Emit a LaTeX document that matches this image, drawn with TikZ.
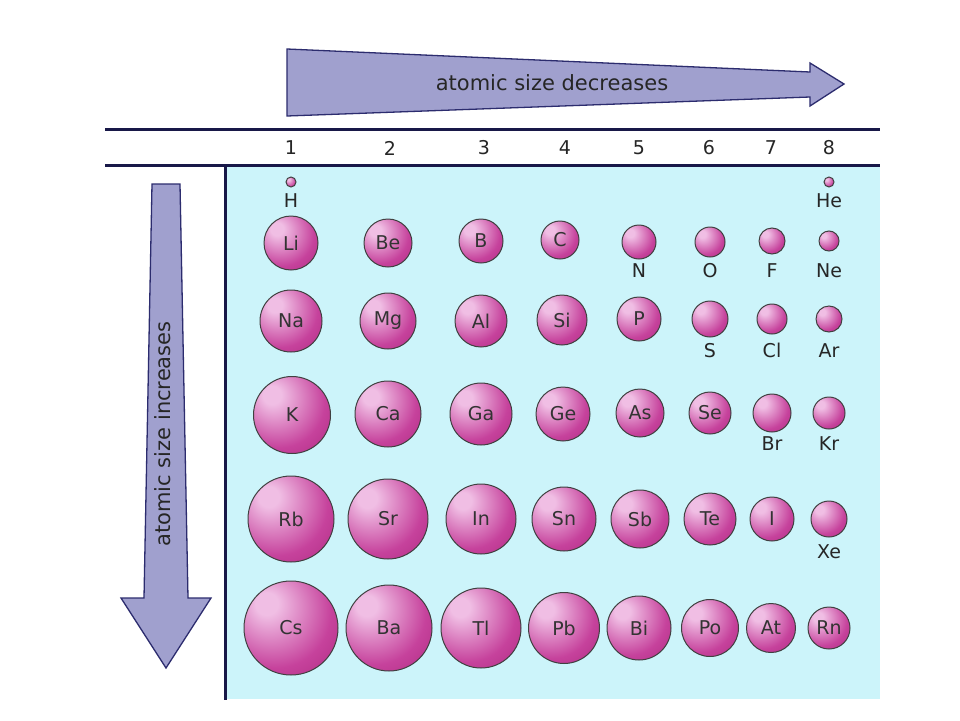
\documentclass[tikz,border=0pt]{standalone}
\usepackage{fontspec}
\setmainfont{DejaVu Sans}
\usepackage{xcolor}
\usepackage{tikz}
\usetikzlibrary{shapes,arrows,positioning,calc}

\definecolor{atomhi}{RGB}{240,190,228}
\definecolor{atommid}{RGB}{198,66,156}
\definecolor{atomdark}{RGB}{156,26,110}
\definecolor{panelblue}{RGB}{204,244,250}
\definecolor{navyline}{RGB}{24,24,72}
\definecolor{arrowfill}{RGB}{160,160,206}
\definecolor{arrowline}{RGB}{44,44,110}

\pgfdeclareradialshading{atomshade}{\pgfqpoint{-14bp}{14bp}}{%
  color(0bp)=(atomhi); color(6bp)=(atomhi); color(30bp)=(atommid);
  color(58bp)=(atomdark); color(80bp)=(atomdark)}

\begin{document}
\begin{tikzpicture}[x=1pt, y=-1pt,
    atom/.style={circle, draw=black!75, line width=1pt, shading=atomshade, inner sep=0pt, text=black!80, font=\fontsize{19}{21}\selectfont},
    lbl/.style={inner sep=0pt, text height=14pt, text depth=0pt, text=black!85, font=\fontsize{19}{21}\selectfont},
    num/.style={text=black!85, font=\fontsize{19}{21}\selectfont},
    bigarrow/.style={fill=arrowfill, draw=arrowline, line width=1.3pt, line join=miter},
    rule/.style={draw=navyline, line width=3pt}
]

\useasboundingbox[fill=white] (0,0) rectangle (960,720);

% panel and rules
\fill[panelblue] (225,165) rectangle (880,699);
\draw[rule] (105,129) -- (880,129);
\draw[rule] (105,165) -- (880,165);
\draw[rule] (225,165) -- (225,700);

% arrows
\draw[bigarrow] (287,49) -- (810,72) -- (810,63) -- (844,84) -- (810,106) -- (810,97) -- (287,116) -- cycle;
\node (across) [font=\fontsize{21}{24}\selectfont, text=black!85] at (552,83) {atomic size decreases};
\draw[bigarrow] (152,184) -- (180,184) -- (188,598) -- (211,598) -- (166,668) -- (121,598) -- (144,598) -- cycle;
\node (down) [font=\fontsize{21}{24}\selectfont, text=black!85, rotate=90] at (163,434) {atomic size increases};

% group numbers
\node (n1) [num] at (291,148) {1};
\node (n2) [num] at (390,148) {2};
\node (n3) [num] at (484,148) {3};
\node (n4) [num] at (565,148) {4};
\node (n5) [num] at (639,148) {5};
\node (n6) [num] at (709,148) {6};
\node (n7) [num] at (771,148) {7};
\node (n8) [num] at (829,148) {8};

% period 1
\node (H) [atom, minimum size=10] at (291,182) {};
\node (He) [atom, minimum size=10] at (829,182) {};
\node (Hl) [lbl] at (291,200) {H};
\node (Hel) [lbl] at (829,200) {He};

% period 2
\node (Li) [atom, minimum size=54] at (291,243) {Li};
\node (Be) [atom, minimum size=48] at (388,243) {Be};
\node (B) [atom, minimum size=44] at (481,241) {B};
\node (C) [atom, minimum size=38] at (560,240) {C};
\node (N) [atom, minimum size=34] at (639,242) {};
\node (O) [atom, minimum size=30] at (710,242) {};
\node (F) [atom, minimum size=26] at (772,241) {};
\node (Ne) [atom, minimum size=20] at (829,241) {};
\node (Nl) [lbl] at (639,270) {N};
\node (Ol) [lbl] at (710,270) {O};
\node (Fl) [lbl] at (772,270) {F};
\node (Nel) [lbl] at (829,270) {Ne};

% period 3
\node (Na) [atom, minimum size=62] at (291,321) {Na};
\node (Mg) [atom, minimum size=56] at (388,321) {Mg};
\node (Al) [atom, minimum size=52] at (481,321) {Al};
\node (Si) [atom, minimum size=50] at (562,320) {Si};
\node (P) [atom, minimum size=44] at (639,319) {P};
\node (S) [atom, minimum size=36] at (710,319) {};
\node (Cl) [atom, minimum size=30] at (772,319) {};
\node (Ar) [atom, minimum size=26] at (829,319) {};
\node (Sl) [lbl] at (710,350) {S};
\node (Cll) [lbl] at (772,350) {Cl};
\node (Arl) [lbl] at (829,350) {Ar};

% period 4
\node (K) [atom, minimum size=77] at (292,415) {K};
\node (Ca) [atom, minimum size=66] at (388,414) {Ca};
\node (Ga) [atom, minimum size=62] at (481,414) {Ga};
\node (Ge) [atom, minimum size=54] at (563,414) {Ge};
\node (As) [atom, minimum size=48] at (640,413) {As};
\node (Se) [atom, minimum size=42] at (710,413) {Se};
\node (Br) [atom, minimum size=38] at (772,413) {};
\node (Kr) [atom, minimum size=32] at (829,413) {};
\node (Brl) [lbl] at (772,443) {Br};
\node (Krl) [lbl] at (829,443) {Kr};

% period 5
\node (Rb) [atom, minimum size=86] at (291,519) {Rb};
\node (Sr) [atom, minimum size=80] at (388,519) {Sr};
\node (In) [atom, minimum size=70] at (481,519) {In};
\node (Sn) [atom, minimum size=64] at (564,519) {Sn};
\node (Sb) [atom, minimum size=58] at (640,519) {Sb};
\node (Te) [atom, minimum size=52] at (710,519) {Te};
\node (I) [atom, minimum size=44] at (772,519) {I};
\node (Xe) [atom, minimum size=36] at (829,519) {};
\node (Xel) [lbl] at (829,551) {Xe};

% period 6
\node (Cs) [atom, minimum size=94] at (291,628) {Cs};
\node (Ba) [atom, minimum size=86] at (389,628) {Ba};
\node (Tl) [atom, minimum size=80] at (481,628) {Tl};
\node (Pb) [atom, minimum size=71] at (564,628) {Pb};
\node (Bi) [atom, minimum size=64] at (639,628) {Bi};
\node (Po) [atom, minimum size=57] at (710,628) {Po};
\node (At) [atom, minimum size=49] at (771,628) {At};
\node (Rn) [atom, minimum size=42] at (829,628) {Rn};

\end{tikzpicture}
\end{document}
